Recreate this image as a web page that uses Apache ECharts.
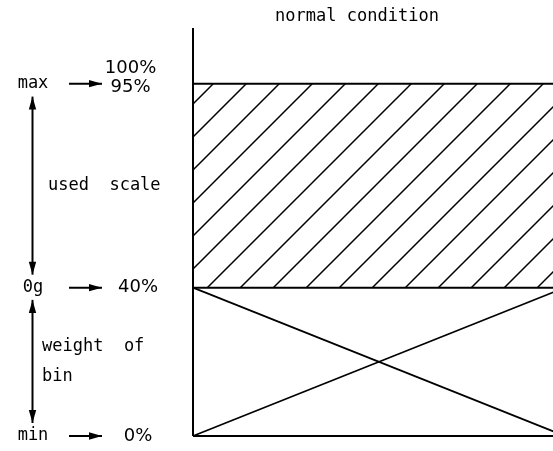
<!DOCTYPE html>
<html><head><meta charset="utf-8">
<script src="https://cdn.jsdelivr.net/npm/echarts@6/dist/echarts.min.js"></script>
<style>html,body{margin:0;padding:0;background:#fff}#c{width:553px;height:451px}</style>
</head><body><div id="c"></div>
<script>
// ---- data ----
const levelNames = ['min', '0g', 'max'];
const levelValues = [0, 40, 95];          // % of bin height
const levelPercents = ['0%', '40%', '95%'];
const topPercentLabel = '100%';
const topPercentValue = 100;
const rangeTexts = ['used  scale', 'weight  of\nbin'];
const rangeSpans = [[91.5, 43.5], [36.7, 3.5]];
const titleText = 'normal condition';
const axisTop = 110;

// ---- layout (x in px offset from the bin's left wall) ----
const L = {
  xMin: -193, xMax: 360, boxRight: 372,
  nameX: -160, arrowX1: -124, arrowX2: -91,
  pctX: -55, topPctX: -62.5, rangeArrowX: -160.5, rangeTextX: [-145, -151],
  titleX: 164, titleY: 113
};
const FONT = '17px "DejaVu Sans Mono"';
const PCT_FONT = '18px "DejaVu Sans"';

// hatch pattern ("/" lines)
const tile = document.createElement('canvas');
tile.width = 33; tile.height = 33;
const tc = tile.getContext('2d');
tc.strokeStyle = '#000'; tc.lineWidth = 1.5;
tc.beginPath();
tc.moveTo(-2, 35); tc.lineTo(35, -2);
tc.moveTo(-2, 2); tc.lineTo(2, -2);
tc.moveTo(31, 35); tc.lineTo(35, 31);
tc.stroke();

// arrows: [x1,y1,x2,y2,headAtStart,headAtEnd]
const arrows = [];
levelValues.forEach(v => arrows.push([L.arrowX1, v, L.arrowX2, v, 0, 1]));
rangeSpans.forEach(s => arrows.push([L.rangeArrowX, s[0], L.rangeArrowX, s[1], 1, 1]));

// texts
const texts = [];
levelNames.forEach((n, i) => texts.push({x: L.nameX, y: levelValues[i], text: n, align: 'center', dy: 0, font: FONT}));
levelPercents.forEach((p, i) => texts.push({x: i === 2 ? L.topPctX : L.pctX, y: levelValues[i], text: p, align: 'center', dy: i === 2 ? 4 : 0, font: PCT_FONT}));
texts.push({x: L.topPctX, y: topPercentValue, text: topPercentLabel, align: 'center', dy: 3, font: PCT_FONT});
rangeTexts.forEach((t, i) => texts.push({x: L.rangeTextX[i], y: (rangeSpans[i][0] + rangeSpans[i][1]) / 2, text: t, align: 'left', dy: 0, font: FONT}));
texts.push({x: L.titleX, y: L.titleY, text: titleText, align: 'center', dy: 0, font: FONT});

function lineSeries(pts, w) {
  return {type: 'line', data: pts, showSymbol: false, symbol: 'none', silent: true,
    lineStyle: {color: '#000', width: w}, clip: true, animation: false};
}

const chart = echarts.init(document.getElementById('c'), null, {renderer: 'canvas'});
chart.setOption({
  animation: false,
  backgroundColor: '#fff',
  grid: {left: 0, right: 0, top: 28, bottom: 15},
  xAxis: {type: 'value', min: L.xMin, max: L.xMax, show: false},
  yAxis: {type: 'value', min: 0, max: axisTop, show: false},
  series: [
    Object.assign(lineSeries([[0, levelValues[2]], [L.boxRight, levelValues[2]]], 2), {
      markArea: {silent: true, itemStyle: {color: {image: tile, repeat: 'repeat'}, borderWidth: 0},
        data: [[{coord: [0, levelValues[1]]}, {coord: [L.boxRight, levelValues[2]]}]]}
    }),
    lineSeries([[0, levelValues[1]], [L.boxRight, levelValues[1]]], 2),
    lineSeries([[0, levelValues[0]], [L.boxRight, levelValues[0]]], 2),
    lineSeries([[0, levelValues[0]], [0, axisTop]], 2),
    lineSeries([[0, levelValues[1]], [L.boxRight, levelValues[0]]], 1.7),
    lineSeries([[0, levelValues[0]], [L.boxRight, levelValues[1]]], 1.7),
    {
      type: 'custom', silent: true, data: arrows,
      renderItem: function (params, api) {
        const p1 = api.coord([api.value(0), api.value(1)]);
        const p2 = api.coord([api.value(2), api.value(3)]);
        const dx = p2[0] - p1[0], dy = p2[1] - p1[1];
        const len = Math.hypot(dx, dy), ux = dx / len, uy = dy / len, px = -uy, py = ux;
        const HL = 13, HW = 3.7;
        const ch = [{type: 'line', shape: {x1: p1[0], y1: p1[1], x2: p2[0], y2: p2[1]}, style: {stroke: '#000', lineWidth: 2}}];
        function head(t, d) {
          const bx = t[0] - d[0] * HL, by = t[1] - d[1] * HL;
          return {type: 'polygon', shape: {points: [[t[0], t[1]], [bx + px * HW, by + py * HW], [bx - px * HW, by - py * HW]]}, style: {fill: '#000'}};
        }
        if (api.value(4)) ch.push(head(p1, [-ux, -uy]));
        if (api.value(5)) ch.push(head(p2, [ux, uy]));
        return {type: 'group', children: ch};
      }
    },
    {
      type: 'custom', silent: true, data: texts.map(t => [t.x, t.y]),
      renderItem: function (params, api) {
        const t = texts[params.dataIndex];
        const p = api.coord([api.value(0), api.value(1)]);
        return {type: 'text', x: p[0], y: p[1] + t.dy,
          style: {text: t.text, font: t.font, fill: '#000', align: t.align, verticalAlign: 'middle', lineHeight: 30}};
      }
    }
  ]
});
</script></body></html>
